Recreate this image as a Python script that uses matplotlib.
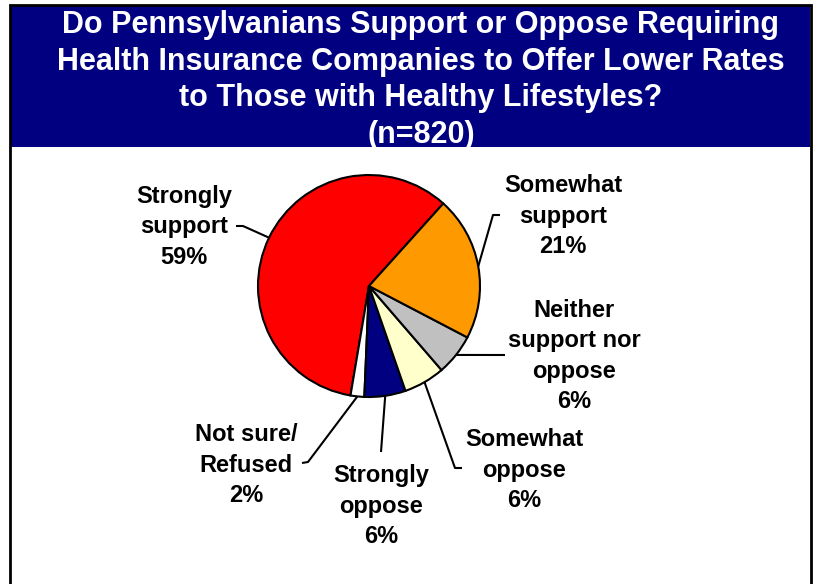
import numpy as np
import matplotlib.pyplot as plt
from matplotlib.patches import Rectangle

#--------------------- data --------------------------------
labels = ['Strongly\nsupport', 'Not sure/\nRefused', 'Strongly\noppose',
          'Somewhat\noppose', 'Neither\nsupport nor\noppose', 'Somewhat\nsupport']
shares = [59, 2, 6, 6, 6, 21]
colors = ['#FF0000', '#FFFFFF', '#000080', '#FFFFCC', '#C0C0C0', '#FF9900']

title = ('Do Pennsylvanians Support or Oppose Requiring\n'
         'Health Insurance Companies to Offer Lower Rates\n'
         'to Those with Healthy Lifestyles?\n'
         '(n=820)')

# label centre and leader elbow points (pixel coords, y measured from top)
label_pos = [(184, 227), (246, 465), (381, 506), (524, 470), (574, 356), (563, 216)]
elbows = [[(243, 226), (236, 226)],
          [(308, 462), (302, 463)],
          [(381, 452)],
          [(455, 468), (462, 468)],
          [(505, 355)],
          [(493, 215), (500, 215)]]

W, H = 816, 584
cx, cy, R = 369, 286, 111

plt.rcParams['font.family'] = ['Liberation Sans', 'DejaVu Sans']
plt.rcParams['font.weight'] = 'bold'

def px(x, y):
    return x, H - y

#--------------------- figure ------------------------------
fig = plt.figure(figsize=(W / 100, H / 100), dpi=100)
ax = fig.add_axes([0, 0, 1, 1])

# navy title banner and outer frame
ax.add_patch(Rectangle(px(10, 147), 800, 142, facecolor='#000080', edgecolor='none'))
ax.add_patch(Rectangle(px(10, 600), 801, 595, facecolor='none', edgecolor='black', lw=2))
ax.text(421, H - 80, title, color='white', fontsize=22, fontweight='bold',
        ha='center', va='center', linespacing=1.3)

wedges, _ = ax.pie(shares, colors=colors, startangle=48, counterclock=True,
                   center=px(cx, cy), radius=R,
                   wedgeprops=dict(edgecolor='black', linewidth=1.5))

for w, lab, val, (tx, ty), elb in zip(wedges, labels, shares, label_pos, elbows):
    mid = np.deg2rad((w.theta1 + w.theta2) / 2)
    start = (cx + R * np.cos(mid), H - cy + R * np.sin(mid))
    pts = [start] + [px(x, y) for x, y in elb]
    xs, ys = zip(*pts)
    ax.plot(xs, ys, color='black', lw=1.5, solid_capstyle='butt')
    ax.text(tx, H - ty, f'{lab}\n{val}%', fontsize=17, fontweight='bold',
            ha='center', va='center', linespacing=1.42)

ax.set_xlim(0, W)
ax.set_ylim(0, H)
ax.set_aspect('equal')
ax.axis('off')

fig.savefig('out.png', dpi=100)
